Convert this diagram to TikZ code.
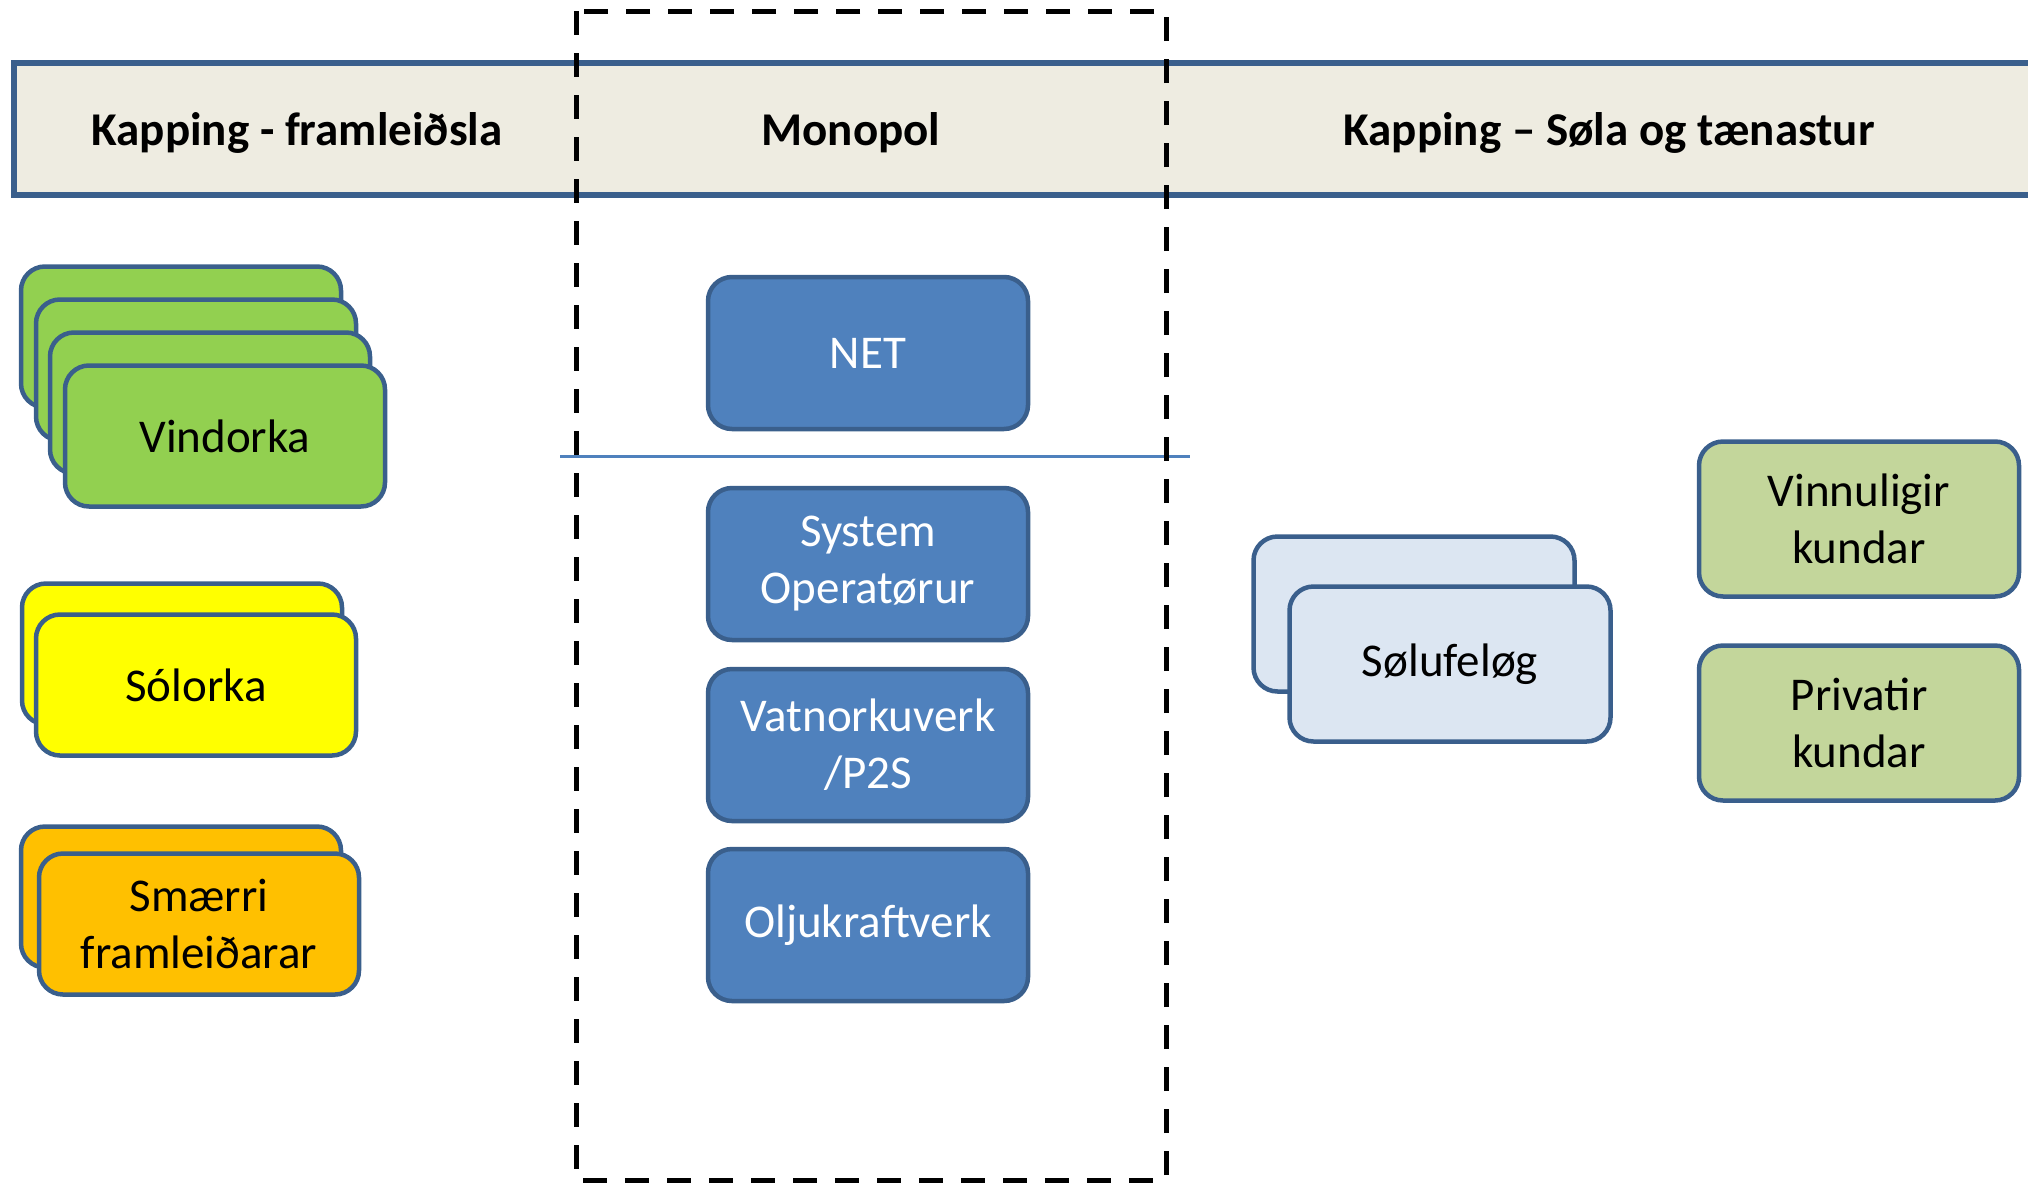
\documentclass[tikz,border=0pt]{standalone}
\usepackage{fontspec}
\setmainfont{Carlito}
\usepackage{xcolor}

\definecolor{boxline}{HTML}{3A5F8C}
\definecolor{headfill}{HTML}{EEECE1}
\definecolor{windgreen}{HTML}{92D050}
\definecolor{sunyellow}{HTML}{FFFF00}
\definecolor{smallorange}{HTML}{FFC000}
\definecolor{monoblue}{HTML}{4F81BD}
\definecolor{salesblue}{HTML}{DCE6F2}
\definecolor{custgreen}{HTML}{C3D69B}

\tikzset{
  card/.style={draw=boxline, line width=4.5pt, rounded corners=24pt,
    minimum width=320pt, minimum height=141pt, inner sep=0pt,
    align=center, font=\fontsize{47}{57}\selectfont},
  monocard/.style={card, fill=monoblue, text=white, minimum height=152pt},
  headtext/.style={font=\fontsize{47}{57}\selectfont\bfseries, inner sep=0pt}
}

\begin{document}
\begin{tikzpicture}[x=1pt, y=-1pt]

\useasboundingbox (0,0) rectangle (2028,1184);

% Draw the header band
\draw[draw=boxline, fill=headfill, line width=6pt] (14,63) rectangle (2045,195);
\node[headtext] (headprod) at (297,133) {Kapping - framleiðsla};
\node[headtext] (headmono) at (851,133) {Monopol};
\node[headtext] (headsale) at (1609,133) {Kapping – Søla og tænastur};

% Draw the production stacks
\foreach \i/\cx/\cy in {1/181/337, 2/196/370, 3/210/403}
  \node[card, fill=windgreen] (wind\i) at (\cx,\cy) {};
\node[card, fill=windgreen] (wind) at (225,436) {Vindorka};

\node[card, fill=sunyellow] (sun1) at (182,654) {};
\node[card, fill=sunyellow] (sun) at (196,685) {Sólorka};

\node[card, fill=smallorange] (small1) at (181,897) {};
\node[card, fill=smallorange] (small) at (199,924) {Smærri\\framleiðarar};

% Draw the monopoly boxes
\node[monocard] (net) at (868,353) {NET};
\node[monocard] (sysop) at (868,564) {System\\Operatørur};
\node[monocard] (hydro) at (868,745) {Vatnorkuverk\\/P2S};
\node[monocard] (oil) at (868,925) {Oljukraftverk};

% Separator under NET
\coordinate (sepl) at (560,456);
\coordinate (sepr) at (1190,456);
\draw[monoblue, line width=3pt] (sepl) -- (sepr);

% Draw the monopoly frame
\draw[line width=5pt, dash pattern=on 24pt off 18pt] (576,11) rectangle (1166,1180);

% Draw the sales side
\node[card, fill=salesblue, minimum width=321pt, minimum height=155pt] (sales1) at (1414,614) {};
\node[card, fill=salesblue, minimum width=321pt, minimum height=155pt] (sales) at (1450,664) {Sølufeløg};

\node[card, fill=custgreen, minimum height=155pt] (business) at (1859,519) {Vinnuligir\\kundar};
\node[card, fill=custgreen, minimum height=155pt] (private) at (1859,723) {Privatir\\kundar};

\end{tikzpicture}
\end{document}
